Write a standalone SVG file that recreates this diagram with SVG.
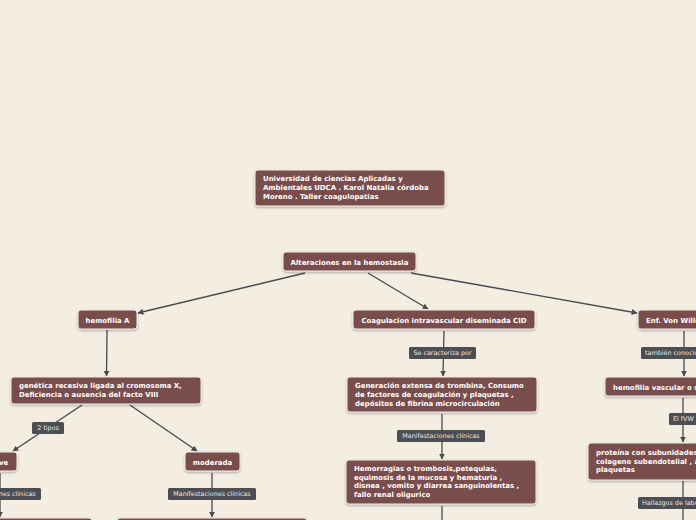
<svg xmlns="http://www.w3.org/2000/svg" width="696" height="520" viewBox="0 0 696 520">
<style>
.n rect{fill:#7a4e4e;stroke:#f4ece6;stroke-width:1;filter:url(#sh)}
.n text{font-family:"DejaVu Sans",Verdana,sans-serif;font-weight:bold;font-size:6.95px;fill:#ffffff}
.l rect{fill:#4c4e53}
.l text{font-family:"DejaVu Sans",Verdana,sans-serif;font-size:6.4px;fill:#e6e6e6}
.c line{stroke:#4a4a4c;stroke-width:1.3;fill:none}
.c line.a{marker-end:url(#ar)}
</style>
<defs>
<filter id="sh" x="-20%" y="-30%" width="140%" height="170%">
<feDropShadow dx="0" dy="1.2" stdDeviation="0.8" flood-color="#000" flood-opacity="0.3"/>
</filter>
<marker id="ar" viewBox="0 0 10 10" refX="9" refY="5" markerWidth="6" markerHeight="6" markerUnits="userSpaceOnUse" orient="auto">
<path d="M0,0 L10,5 L0,10 z" fill="#4a4a4c"/>
</marker>
</defs>
<rect width="696" height="520" fill="#f3ede2"/>
<g class="c">
<line class="a" x1="305" y1="273" x2="138" y2="313"/>
<line class="a" x1="368" y1="273" x2="428" y2="309"/>
<line class="a" x1="411" y1="273" x2="637" y2="313"/>
<line class="a" x1="107" y1="330" x2="106.5" y2="376"/>
<line class="a" x1="82" y1="405" x2="13" y2="451"/>
<line class="a" x1="130" y1="405" x2="197" y2="451"/>
<line class="a" x1="212" y1="473" x2="212" y2="517"/>
<line class="a" x1="0" y1="473" x2="0" y2="517"/>
<line class="a" x1="444" y1="331" x2="443" y2="376"/>
<line class="a" x1="442" y1="414" x2="442" y2="459"/>
<line x1="442" y1="506" x2="442" y2="520"/>
<line class="a" x1="684" y1="331" x2="684" y2="376"/>
<line class="a" x1="683" y1="398" x2="683" y2="442"/>
<line x1="683" y1="481" x2="683" y2="520"/>
</g>
<g id="title" class="n"><rect x="255" y="170" width="190" height="36" rx="3"/>
<text x="263" y="181">Universidad de ciencias Aplicadas y</text>
<text x="263" y="190">Ambientales UDCA . Karol Natalia córdoba</text>
<text x="263" y="199">Moreno . Taller coagulopatias</text></g>
<g id="alteraciones" class="n"><rect x="283" y="252" width="133" height="19" rx="3"/>
<text x="349.5" y="264.5" text-anchor="middle">Alteraciones en la hemostasia</text></g>
<g id="hemofiliaA" class="n"><rect x="78" y="310" width="59" height="19" rx="3"/>
<text x="107.5" y="322.5" text-anchor="middle">hemofilia A</text></g>
<g id="cid" class="n"><rect x="353" y="310" width="182" height="19" rx="3"/>
<text x="444" y="322.5" text-anchor="middle">Coagulacion intravascular diseminada CID</text></g>
<g id="vonw" class="n"><rect x="638" y="310" width="90" height="19" rx="3"/>
<text x="646" y="322.5">Enf. Von Willebrand</text></g>
<g id="genetica" class="n"><rect x="11" y="377" width="190" height="27" rx="3"/>
<text x="19" y="388">genética recesiva ligada al cromosoma X,</text>
<text x="19" y="397">Deficiencia o ausencia del facto VIII</text></g>
<g id="grave" class="n"><rect x="-22" y="452" width="39" height="19" rx="3"/>
<text x="-3" y="464.5" text-anchor="middle">grave</text></g>
<g id="moderada" class="n"><rect x="185" y="452" width="55" height="19" rx="3"/>
<text x="212.5" y="464.5" text-anchor="middle">moderada</text></g>
<g id="bottomLeft" class="n"><rect x="-10" y="518" width="102" height="20" rx="3"/></g>
<g id="bottomMod" class="n"><rect x="117" y="518" width="190" height="20" rx="3"/></g>
<g id="generacion" class="n"><rect x="347" y="377" width="190" height="35" rx="3"/>
<text x="355" y="388">Generación extensa de trombina, Consumo</text>
<text x="355" y="397">de factores de coagulación y plaquetas ,</text>
<text x="355" y="405.5">depósitos de fibrina microcirculación</text></g>
<g id="hemorragias" class="n"><rect x="346" y="460" width="190" height="44" rx="3"/>
<text x="354" y="471">Hemorragias o trombosis,petequias,</text>
<text x="354" y="479.5">equimosis de la mucosa y hematuria ,</text>
<text x="354" y="488">disnea , vomito y diarrea sanguinolentas ,</text>
<text x="354" y="496.5">fallo renal oligurico</text></g>
<g id="hemofiliaVascular" class="n"><rect x="605" y="377" width="120" height="19" rx="3"/>
<text x="613" y="389.5">hemofilia vascular o seudohemofilia</text></g>
<g id="proteina" class="n"><rect x="588" y="443" width="140" height="37" rx="3"/>
<text x="596" y="455">proteína con subunidades que se une al</text>
<text x="596" y="463.5">colageno subendotelial , a receptores de</text>
<text x="596" y="472">plaquetas</text></g>
<g id="lbl2tipos" class="l"><rect x="32" y="422" width="32" height="12" rx="1.5"/>
<text x="48" y="430.3" text-anchor="middle">2 tipos</text></g>
<g id="lblManGrave" class="l"><rect x="-47" y="488" width="88" height="12" rx="1.5"/>
<text x="-3" y="496.3" text-anchor="middle">Manifestaciones clínicas</text></g>
<g id="lblManMod" class="l"><rect x="168" y="488" width="88" height="12" rx="1.5"/>
<text x="212" y="496.3" text-anchor="middle">Manifestaciones clínicas</text></g>
<g id="lblSe" class="l"><rect x="409" y="347" width="67" height="12" rx="1.5"/>
<text x="442.5" y="355.3" text-anchor="middle">Se caracteriza por</text></g>
<g id="lblManCID" class="l"><rect x="397" y="430" width="88" height="12" rx="1.5"/>
<text x="441" y="438.3" text-anchor="middle">Manifestaciones clínicas</text></g>
<g id="lblTambien" class="l"><rect x="641" y="347" width="90" height="12" rx="1.5"/>
<text x="645" y="355.3">también conocida como</text></g>
<g id="lblFvw" class="l"><rect x="669" y="413" width="30" height="12" rx="1.5"/>
<text x="673" y="421.3">El fVW</text></g>
<g id="lblHallazgos" class="l"><rect x="638" y="497" width="90" height="12" rx="1.5"/>
<text x="642" y="505.3">Hallazgos de laboratorio</text></g>
</svg>
